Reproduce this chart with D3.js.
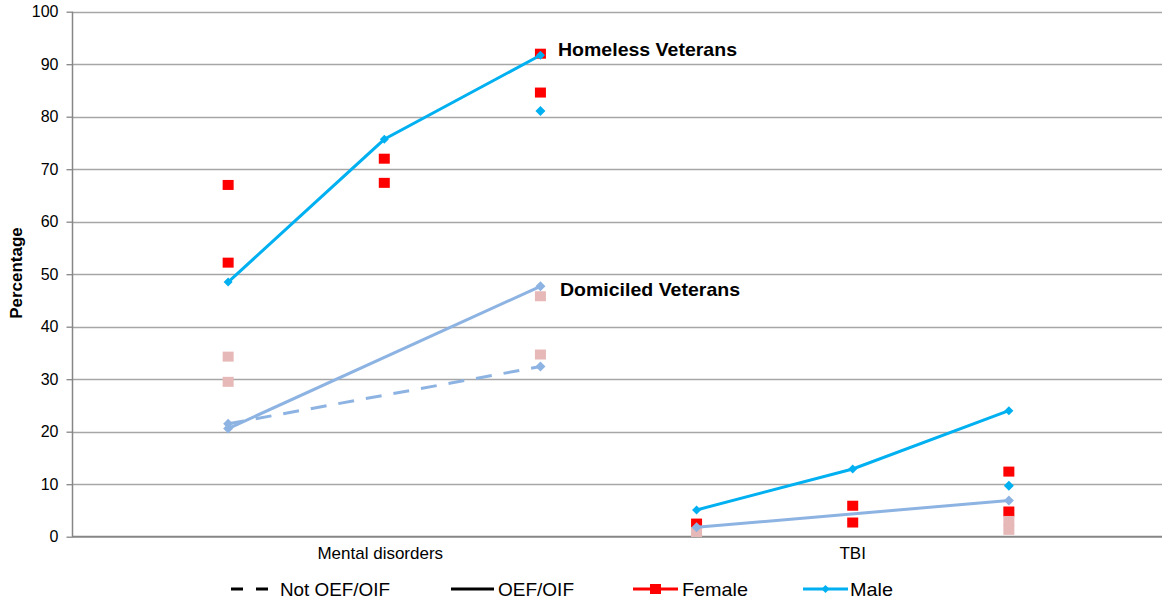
<!DOCTYPE html>
<html><head><meta charset="utf-8">
<script src="https://cdn.jsdelivr.net/npm/d3@7"></script>
<style>
body{margin:0;background:#fff;}
text{font-family:"Liberation Sans",Arial,sans-serif;}
</style></head>
<body><svg id="chart" width="1162" height="603"></svg>
<script>
const categories = ["Mental disorders", "TBI"];
const positions = ["MD-a", "MD-b", "MD-c", "TBI-a", "TBI-b", "TBI-c"];
const yTicks = [0, 10, 20, 30, 40, 50, 60, 70, 80, 90, 100];

// Homeless veterans
const homelessMaleOEF = [48.5, 75.7, 91.7, 5.1, 12.9, 24.0];
const homelessMaleOther = [null, null, 81.1, null, null, 9.7];
const homelessFemaleA = [67.0, 72.0, 92.0, 2.5, 5.9, 12.4];
const homelessFemaleB = [52.2, 67.4, 84.6, null, 2.7, 4.8];
// Domiciled veterans
const domiciledMaleOEF = [20.6, null, 47.7, 1.8, null, 6.9];
const domiciledMaleNotOEF = [21.5, null, 32.4, null, null, null];
const domiciledFemaleA = [34.3, null, 45.8, 0.9, null, 3.0];
const domiciledFemaleB = [29.5, null, 34.7, null, null, 1.3];

const annotations = ["Homeless Veterans", "Domiciled Veterans"];
const legendLabels = ["Not OEF/OIF", "OEF/OIF", "Female", "Male"];

const C_MALE = "#00b0f0", C_FEMALE = "#ff0000", C_DMALE = "#8db3e2", C_DFEMALE = "#e6b9b8";

const svg = d3.select("#chart");
const x = d3.scalePoint().domain(positions).range([72, 1165]).padding(1);
const y = d3.scaleLinear().domain([0, 100]).range([536.7, 11.7]);

// grid
svg.append("g").selectAll("line").data(yTicks.filter(d => d > 0)).join("line")
  .attr("x1", 72).attr("x2", 1162)
  .attr("y1", d => Math.round(y(d)) + 0.5).attr("y2", d => Math.round(y(d)) + 0.5)
  .attr("stroke", "#a6a6a6").attr("stroke-width", 1.3);

// y axis
const yAxis = d3.axisLeft(y).tickValues(yTicks).tickSize(6).tickPadding(8);
const gy = svg.append("g").attr("transform", "translate(72.5,0)").call(yAxis);
gy.select(".domain").attr("stroke", "#868686").attr("stroke-width", 1.5).attr("d", `M0,${y(100)}V${y(0)}`);
gy.selectAll(".tick line").attr("stroke", "#868686").attr("stroke-width", 1.3);
gy.selectAll(".tick text").attr("font-size", 16).attr("fill", "#000")
  .attr("font-family", "Liberation Sans, Arial, sans-serif");

// x axis line
svg.append("line").attr("x1", 72).attr("x2", 1162).attr("y1", y(0)).attr("y2", y(0))
  .attr("stroke", "#868686").attr("stroke-width", 2);

// category labels
const midIdx = [1, 4];
svg.append("g").selectAll("text").data(categories).join("text")
  .attr("x", (d, i) => x(positions[midIdx[i]]) - (i === 0 ? 4 : 0)).attr("y", 559)
  .attr("text-anchor", "middle").attr("font-size", 17).attr("fill", "#000").text(d => d);

// y title
svg.append("text").attr("transform", "translate(22,273) rotate(-90)")
  .attr("text-anchor", "middle").attr("font-size", 17).attr("font-weight", "bold")
  .attr("fill", "#000").text("Percentage");

function pts(arr) { return arr.map((v, i) => ({ k: positions[i], v })).filter(d => d.v !== null); }
function sq(g, arr, color) {
  g.selectAll(null).data(pts(arr)).join("rect")
    .attr("x", d => x(d.k) - 5.5).attr("y", d => y(d.v) - 5)
    .attr("width", 11).attr("height", 10).attr("fill", color);
}
function diamonds(g, arr, color, r) {
  g.selectAll(null).data(pts(arr)).join("path")
    .attr("d", d => `M${x(d.k)},${y(d.v) - r}L${x(d.k) + r},${y(d.v)}L${x(d.k)},${y(d.v) + r}L${x(d.k) - r},${y(d.v)}Z`)
    .attr("fill", color);
}
const line = d3.line().x(d => x(d.k)).y(d => y(d.v));
function segLine(g, arr, color, dash) {
  const p = pts(arr);
  const groups = [p.filter(d => positions.indexOf(d.k) < 3), p.filter(d => positions.indexOf(d.k) >= 3)];
  groups.forEach(gp => {
    if (gp.length > 1) g.append("path").attr("d", line(gp)).attr("fill", "none")
      .attr("stroke", color).attr("stroke-width", 3).attr("stroke-dasharray", dash || null);
  });
}

const marks = svg.append("g");
sq(marks, homelessFemaleA, C_FEMALE);
sq(marks, homelessFemaleB, C_FEMALE);
sq(marks, domiciledFemaleA, C_DFEMALE);
sq(marks, domiciledFemaleB, C_DFEMALE);
segLine(marks, domiciledMaleNotOEF, C_DMALE, "16,12");
diamonds(marks, domiciledMaleNotOEF, C_DMALE, 5);
segLine(marks, domiciledMaleOEF, C_DMALE);
diamonds(marks, domiciledMaleOEF, C_DMALE, 5);
segLine(marks, homelessMaleOEF, C_MALE);
diamonds(marks, homelessMaleOEF, C_MALE, 4.5);
diamonds(marks, homelessMaleOther, C_MALE, 5);

// annotations
svg.append("text").attr("x", 558).attr("y", 56).attr("font-size", 18.5).attr("font-weight", "bold")
  .attr("textLength", 179).attr("lengthAdjust", "spacingAndGlyphs").text(annotations[0]);
svg.append("text").attr("x", 560).attr("y", 296).attr("font-size", 18.5).attr("font-weight", "bold")
  .attr("textLength", 180).attr("lengthAdjust", "spacingAndGlyphs").text(annotations[1]);

// legend
const lg = svg.append("g");
const ly = 589;
lg.append("line").attr("x1", 231).attr("x2", 271).attr("y1", ly).attr("y2", ly)
  .attr("stroke", "#000").attr("stroke-width", 3).attr("stroke-dasharray", "12,13");
lg.append("line").attr("x1", 451).attr("x2", 494).attr("y1", ly).attr("y2", ly)
  .attr("stroke", "#000").attr("stroke-width", 3);
lg.append("line").attr("x1", 633).attr("x2", 678).attr("y1", ly).attr("y2", ly)
  .attr("stroke", C_FEMALE).attr("stroke-width", 3);
lg.append("rect").attr("x", 650).attr("y", ly - 5).attr("width", 11).attr("height", 10).attr("fill", C_FEMALE);
lg.append("line").attr("x1", 803).attr("x2", 848).attr("y1", ly).attr("y2", ly)
  .attr("stroke", C_MALE).attr("stroke-width", 3);
lg.append("path").attr("d", `M825.5,${ly - 4}l4,4l-4,4l-4,-4Z`).attr("fill", C_MALE);
const lx = [280, 498, 682, 850];
const lw = [110, 76, 66, 43];
lg.selectAll("text").data(legendLabels).join("text")
  .attr("x", (d, i) => lx[i]).attr("y", ly + 7).attr("font-size", 19).attr("fill", "#000")
  .attr("textLength", (d, i) => lw[i]).attr("lengthAdjust", "spacingAndGlyphs").text(d => d);
</script></body></html>
